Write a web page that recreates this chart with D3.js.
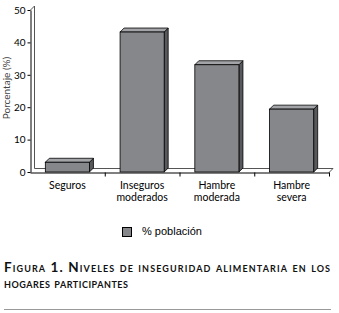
<!DOCTYPE html>
<html><head><meta charset="utf-8">
<script src="https://cdn.jsdelivr.net/npm/d3@7"></script>
<style>body{margin:0;background:#fff}svg{display:block}</style>
</head><body>
<svg id="c" width="339" height="313"></svg>
<script>
const categories = [["Seguros"], ["Inseguros", "moderados"], ["Hambre", "moderada"], ["Hambre", "severa"]];
const values = [3.0, 43.2, 33.1, 19.4];
const yTicks = [0, 10, 20, 30, 40, 50];
const seriesName = "% población";
const yTitle = "Porcentaje (%)";
const captionLine1 = "Figura 1. Niveles de inseguridad alimentaria en los";
const captionLine2 = "hogares participantes";

const svg = d3.select("#c");
const dx = 4, dy = -4;
const y = d3.scaleLinear().domain([0, 50]).range([172, 10]);
const x = d3.scaleBand().domain(d3.range(categories.length)).range([30, 329]).paddingInner(0.41).paddingOuter(0.205);
const x0 = 30, x1 = 329, y0 = y(0), yTop = y(50);

// back wall & floor
const g3 = svg.append("g").attr("fill", "none").attr("stroke-width", 1);
g3.append("path").attr("d", `M${x0+dx+0.5},${yTop+dy} V${y0+dy+0.5} H${x1+dx}`).attr("stroke", "#555");
g3.append("path").attr("d", `M${x0+0.5},${yTop} L${x0+dx+0.5},${yTop+dy}`).attr("stroke", "#555");
g3.append("path").attr("d", `M${x1},${y0+0.5} L${x1+dx},${y0+dy+0.5}`).attr("stroke", "#555");

// bars
const bars = svg.append("g").selectAll("g").data(values).join("g");
bars.append("path").attr("fill", "#58595c").attr("stroke", "#000").attr("stroke-width", 0.8)
  .attr("d", (d, i) => { const xr = x(i) + x.bandwidth(); return `M${xr},${y(d)} L${xr+dx},${y(d)+dy} V${y0+dy} L${xr},${y0} Z`; });
bars.append("path").attr("fill", "#a3a4a7").attr("stroke", "#000").attr("stroke-width", 0.8)
  .attr("d", (d, i) => { const xl = x(i), xr = xl + x.bandwidth(); return `M${xl},${y(d)} L${xl+dx},${y(d)+dy} H${xr+dx} L${xr},${y(d)} Z`; });
bars.append("rect").attr("fill", "#86878b").attr("stroke", "#000").attr("stroke-width", 0.8)
  .attr("x", (d, i) => x(i)).attr("y", d => y(d)).attr("width", x.bandwidth()).attr("height", d => y0 - y(d));

// y axis
const ya = svg.append("g").attr("transform", `translate(${x0 + 0.5},0)`)
  .call(d3.axisLeft(y).tickValues(yTicks).tickSize(3).tickPadding(2).tickSizeOuter(0));
ya.select(".domain").attr("stroke", "#000");
ya.selectAll("text").attr("font-family", "Lato").attr("font-size", 10).attr("fill", "#000");

// x axis
const xl = d3.scaleLinear().domain([0, categories.length]).range([x0, x1]);
const xa = svg.append("g").attr("transform", `translate(0,${y0 + 0.5})`)
  .call(d3.axisBottom(xl).tickValues(d3.range(1, categories.length + 1)).tickSize(4).tickFormat("").tickSizeOuter(0));
xa.select(".domain").attr("stroke", "#000");

const labels = svg.append("g").attr("font-family", "Lato").attr("font-size", 10.5).attr("text-anchor", "middle");
categories.forEach((lines, i) => {
  lines.forEach((t, j) => {
    labels.append("text").attr("x", x(i) + x.bandwidth() / 2).attr("y", 189 + j * 12).text(t);
  });
});

svg.append("text").attr("transform", "translate(10,88) rotate(-90)").attr("text-anchor", "middle")
  .attr("font-family", "Lato").attr("font-size", 10).attr("fill", "#444").text(yTitle);

// legend
svg.append("rect").attr("x", 122.5).attr("y", 227.5).attr("width", 9).attr("height", 9).attr("fill", "#86878b").attr("stroke", "#000");
svg.append("text").attr("x", 142).attr("y", 235).attr("font-family", "Liberation Sans").attr("font-size", 11).text(seriesName);

// caption
const cap = svg.append("g").attr("font-family", "Lato").attr("font-weight", "bold").attr("font-variant", "small-caps").attr("font-size", 13.5).attr("fill", "#111");
cap.append("text").attr("x", 4).attr("y", 272).attr("textLength", 326).attr("lengthAdjust", "spacing").text(captionLine1);
cap.append("text").attr("x", 4).attr("y", 288).attr("textLength", 124).attr("lengthAdjust", "spacing").text(captionLine2);
svg.append("line").attr("x1", 4).attr("x2", 331).attr("y1", 309.5).attr("y2", 309.5).attr("stroke", "#999");
</script>
</body></html>
